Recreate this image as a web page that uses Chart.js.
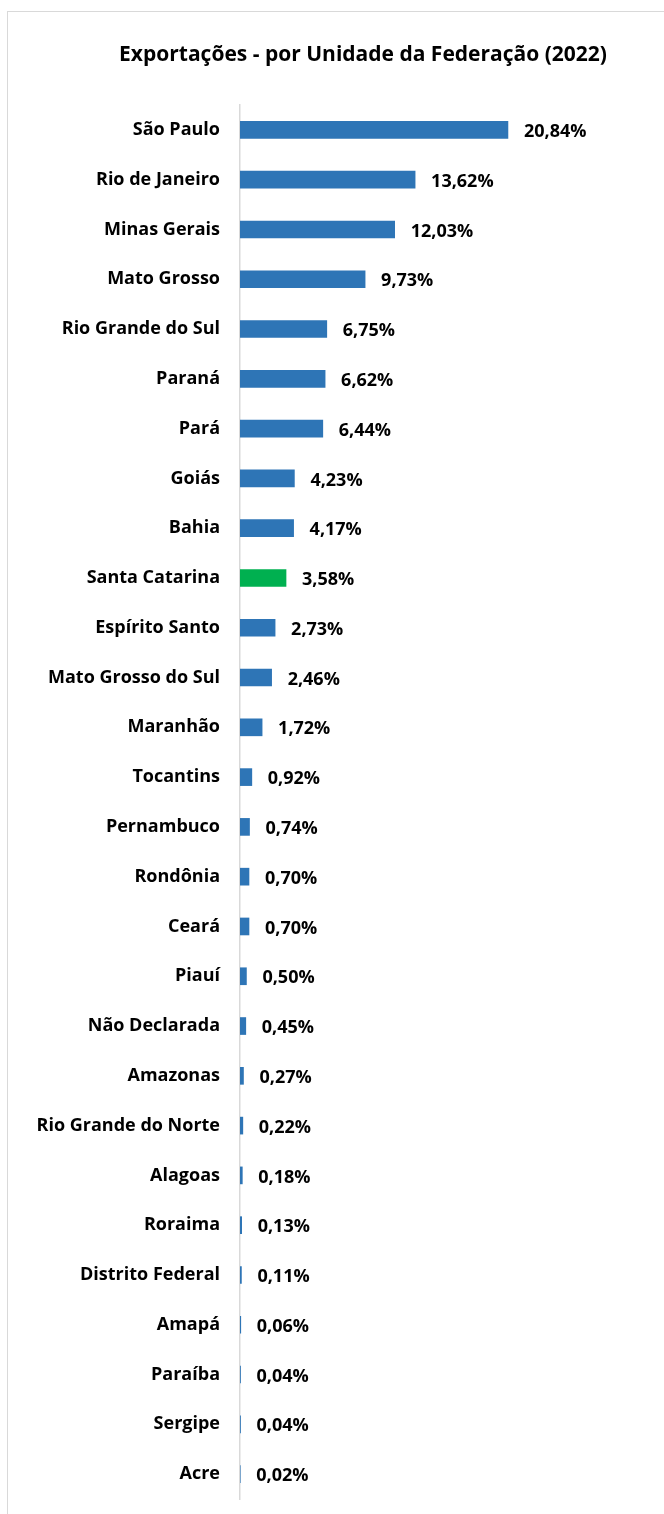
<!DOCTYPE html>
<html lang="pt-BR">
<head>
<meta charset="utf-8">
<title>Exportações - por Unidade da Federação (2022)</title>
<script src="https://cdn.jsdelivr.net/npm/chart.js@4.4.0/dist/chart.umd.min.js"></script>
<style>
  html, body { margin: 0; padding: 0; background: #fff; overflow: hidden; }
  body { width: 664px; height: 1514px; position: relative; }
  #frame {
    position: absolute; left: 7px; top: 11px; width: 720px; height: 1600px;
    border-top: 1px solid #d9d9d9; border-left: 1px solid #d9d9d9;
  }
  #wrap { position: absolute; left: 0; top: 0; width: 726px; height: 1514px; }
</style>
</head>
<body>
<div id="frame"></div>
<div id="wrap"><canvas id="chart"></canvas></div>
<script>
const states = [
  'São Paulo', 'Rio de Janeiro', 'Minas Gerais', 'Mato Grosso', 'Rio Grande do Sul',
  'Paraná', 'Pará', 'Goiás', 'Bahia', 'Santa Catarina', 'Espírito Santo',
  'Mato Grosso do Sul', 'Maranhão', 'Tocantins', 'Pernambuco', 'Rondônia', 'Ceará',
  'Piauí', 'Não Declarada', 'Amazonas', 'Rio Grande do Norte', 'Alagoas', 'Roraima',
  'Distrito Federal', 'Amapá', 'Paraíba', 'Sergipe', 'Acre'
];
const shares = [
  20.84, 13.62, 12.03, 9.73, 6.75, 6.62, 6.44, 4.23, 4.17, 3.58, 2.73, 2.46, 1.72,
  0.92, 0.74, 0.70, 0.70, 0.50, 0.45, 0.27, 0.22, 0.18, 0.13, 0.11, 0.06, 0.04, 0.04, 0.02
];
const highlight = 'Santa Catarina';
const title = 'Exportações - por Unidade da Federação (2022)';

const barBlue = '#2E75B6';
const barGreen = '#00B050';
const fontFamily = '"Open Sans", "Noto Sans", sans-serif';

// value labels to the right of each bar
const valueLabels = {
  id: 'valueLabels',
  afterDatasetsDraw(chart) {
    const ctx = chart.ctx;
    const meta = chart.getDatasetMeta(0);
    ctx.save();
    ctx.font = `bold 18px ${fontFamily}`;
    ctx.fillStyle = '#000';
    ctx.textAlign = 'left';
    ctx.textBaseline = 'middle';
    meta.data.forEach((bar, i) => {
      const txt = shares[i].toFixed(2).replace('.', ',') + '%';
      ctx.fillText(txt, bar.x + 16, bar.y + 2);
    });
    ctx.restore();
  }
};

const canvas = document.getElementById('chart');
const chart = new Chart(canvas.getContext('2d'), {
  type: 'bar',
  data: {
    labels: states,
    datasets: [{
      data: shares,
      backgroundColor: states.map(s => s === highlight ? barGreen : barBlue),
      borderWidth: 0,
      barThickness: 17
    }]
  },
  options: {
    indexAxis: 'y',
    responsive: true,
    maintainAspectRatio: false,
    animation: false,
    layout: {
      padding: { left: 0, right: 0, top: 0, bottom: 15 }
    },
    scales: {
      x: {
        display: false,
        min: 0,
        max: 37.8
      },
      y: {
        afterFit: (scale) => {
          scale.width = 240;
          scale.paddingTop = 0;
          scale.paddingBottom = 0;
        },
        grid: { display: false, drawTicks: false },
        border: { display: true, color: '#d9d9d9', width: 1.5 },
        ticks: {
          padding: 20,
          color: '#000',
          font: { family: fontFamily, size: 18, weight: 'bold' }
        }
      }
    },
    plugins: {
      legend: { display: false },
      tooltip: { enabled: false },
      title: {
        display: true,
        text: title,
        color: '#000',
        font: { family: fontFamily, size: 21, weight: 'bold', lineHeight: 1.2 },
        padding: { top: 42.4, bottom: 37.4 }
      }
    }
  },
  plugins: [valueLabels]
});
</script>
</body>
</html>
